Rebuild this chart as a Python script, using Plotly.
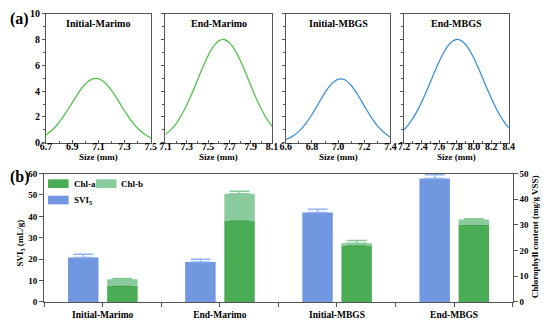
import plotly.graph_objects as go

W, H = 550, 324
FONT = "Liberation Serif"

# ---------- (a) size distributions ----------
panel_titles = ["Initial-Marimo", "End-Marimo", "Initial-MBGS", "End-MBGS"]

size_im = [6.70, 6.75, 6.80, 6.85, 6.90, 6.95, 7.00, 7.05, 7.10, 7.15, 7.20, 7.25, 7.30, 7.35, 7.40, 7.45, 7.50]
freq_im = [0.60, 1.02, 1.59, 2.31, 3.11, 3.91, 4.55, 4.93, 4.97, 4.65, 4.05, 3.28, 2.46, 1.72, 1.12, 0.68, 0.38]

size_em = [7.10, 7.15, 7.20, 7.25, 7.30, 7.35, 7.40, 7.45, 7.50, 7.55, 7.60, 7.65, 7.70, 7.75, 7.80, 7.85, 7.90, 7.95, 8.00, 8.05, 8.10]
freq_em = [0.64, 1.00, 1.49, 2.14, 2.93, 3.86, 4.85, 5.85, 6.75, 7.46, 7.89, 8.00, 7.75, 7.20, 6.41, 5.46, 4.45, 3.47, 2.60, 1.86, 1.27]

size_ib = [6.60, 6.65, 6.70, 6.75, 6.80, 6.85, 6.90, 6.95, 7.00, 7.05, 7.10, 7.15, 7.20, 7.25, 7.30, 7.35, 7.40]
freq_ib = [0.25, 0.49, 0.88, 1.45, 2.19, 3.04, 3.88, 4.56, 4.92, 4.88, 4.44, 3.72, 2.86, 2.03, 1.32, 0.79, 0.43]

size_eb = [7.20, 7.25, 7.30, 7.35, 7.40, 7.45, 7.50, 7.55, 7.60, 7.65, 7.70, 7.75, 7.80, 7.85, 7.90, 7.95, 8.00, 8.05, 8.10, 8.15, 8.20, 8.25, 8.30, 8.35, 8.40]
freq_eb = [1.01, 1.40, 1.89, 2.47, 3.14, 3.89, 4.69, 5.50, 6.26, 6.94, 7.48, 7.84, 8.00, 7.93, 7.65, 7.17, 6.55, 5.81, 5.01, 4.21, 3.44, 2.73, 2.11, 1.58, 1.16]

x_ranges = [[6.7, 7.5], [7.1, 8.1], [6.6, 7.4], [7.2, 8.4]]
x_tickvals = [
    [6.7, 6.9, 7.1, 7.3, 7.5],
    [7.1, 7.3, 7.5, 7.7, 7.9, 8.1],
    [6.6, 6.8, 7.0, 7.2, 7.4],
    [7.2, 7.4, 7.6, 7.8, 8.0, 8.2, 8.4],
]

# ---------- (b) bars ----------
categories = ["Initial-Marimo", "End-Marimo", "Initial-MBGS", "End-MBGS"]
svi5 = [20.8, 18.7, 41.8, 57.7]
svi5_err = [1.5, 1.2, 1.5, 1.8]
chl_a = [6.3, 31.7, 22.0, 30.0]
chl_a_err = [0.6, 1.6, 0.0, 0.0]
chl_b = [2.5, 10.4, 0.9, 2.1]
chl_b_err = [0.3, 1.0, 1.0, 0.3]

GREEN_LINE = "#55c04f"
BLUE_LINE = "#3f8fd8"
C_SVI = "#7097e0"
C_SVI_ERR = "#92b2f0"
C_A = "#4aad55"
C_A_ERR = "#3b9646"
C_B = "#89cb9d"
AX = "#555555"


def px(x):
    return x / W


def py(y):
    return 1 - y / H


fig = go.Figure()

top_domains = [(41, 148), (163, 272), (286, 393), (407, 514)]
curves = [(size_im, freq_im, GREEN_LINE), (size_em, freq_em, GREEN_LINE),
          (size_ib, freq_ib, BLUE_LINE), (size_eb, freq_eb, BLUE_LINE)]

for i, (xs, ys, col) in enumerate(curves):
    n = "" if i == 0 else str(i + 1)
    fig.add_trace(go.Scatter(x=xs, y=ys, mode="lines", line=dict(color=col, width=1.3, shape="spline"),
                             xaxis="x" + n, yaxis="y" + n, showlegend=False, hoverinfo="skip"))
    x0, x1 = top_domains[i]
    fig.update_layout(**{
        "xaxis" + n: dict(domain=[px(x0), px(x1)], anchor="y" + n, range=x_ranges[i],
                          tickvals=x_tickvals[i], ticktext=["%.1f" % v for v in x_tickvals[i]],
                          showline=True, linecolor=AX, linewidth=1, mirror=True,
                          ticks="inside", ticklen=3, tickcolor=AX, showgrid=False, zeroline=False,
                          ticklabelstandoff=-6,
                          minor=dict(ticks="inside", ticklen=2, tickcolor=AX, dtick=0.1,
                                     tick0=x_ranges[i][0]),
                          tickfont=dict(family=FONT, size=10, color="black", weight="bold")),
        "yaxis" + n: dict(domain=[py(142), py(8)], anchor="x" + n, range=[0, 10], dtick=2,
                          showline=True, linecolor=AX, linewidth=1, mirror=True,
                          ticks="outside", ticklen=3, tickcolor=AX, showgrid=False, zeroline=False,
                          showticklabels=(i == 0),
                          minor=dict(ticks="outside", ticklen=2, tickcolor=AX, dtick=1),
                          tickfont=dict(family=FONT, size=10, color="black", weight="bold")),
    })
    fig.add_annotation(text=panel_titles[i], xref="x" + n + " domain", yref="paper",
                       x=0.5, y=py(18), showarrow=False, xanchor="center", yanchor="middle",
                       font=dict(family=FONT, size=10, color="black", weight="bold"))
    fig.add_annotation(text="Size (mm)", xref="x" + n + " domain", yref="paper",
                       x=0.5, y=py(157), showarrow=False, xanchor="center", yanchor="middle",
                       font=dict(family=FONT, size=9, color="black", weight="bold"))

# bottom chart
xpos = list(range(len(categories)))
BW = 0.26
fig.add_trace(go.Bar(x=xpos, y=svi5, width=BW, offset=-0.296, marker=dict(color=C_SVI, line=dict(width=0)),
                     error_y=dict(type="data", array=svi5_err, arrayminus=[0] * 4, symmetric=False,
                                  color=C_SVI_ERR, thickness=1.5, width=10),
                     xaxis="x5", yaxis="y5", showlegend=False, name="SVI5"))
fig.add_trace(go.Bar(x=xpos, y=chl_a, width=BW, offset=0.038, marker=dict(color=C_A, line=dict(width=0)),
                     error_y=dict(type="data", array=chl_a_err, arrayminus=[0] * 4, symmetric=False,
                                  color=C_A_ERR, thickness=1.5, width=10),
                     xaxis="x5", yaxis="y6", showlegend=False, name="Chl-a"))
fig.add_trace(go.Bar(x=xpos, y=chl_b, base=chl_a, width=BW, offset=0.038, marker=dict(color=C_B, line=dict(width=0)),
                     error_y=dict(type="data", array=chl_b_err, arrayminus=[0] * 4, symmetric=False,
                                  color=C_B, thickness=1.5, width=10),
                     xaxis="x5", yaxis="y6", showlegend=False, name="Chl-b"))

fig.update_layout(
    xaxis5=dict(domain=[px(39), px(518)], anchor="y5", range=[-0.5, 3.5],
                tickvals=xpos, ticktext=categories,
                showline=True, linecolor=AX, linewidth=1, mirror=True,
                ticks="outside", ticklen=4, tickcolor=AX, showgrid=False, zeroline=False,
                minor=dict(ticks="outside", ticklen=4, tickcolor=AX, tickvals=[-0.5, 0.5, 1.5, 2.5, 3.5]),
                tickfont=dict(family=FONT, size=9.5, color="black", weight="bold")),
    yaxis5=dict(domain=[py(307.3), py(174)], anchor="x5", range=[0, 60], dtick=10,
                showline=True, linecolor=AX, linewidth=1,
                ticks="outside", ticklen=4, tickcolor=AX, showgrid=False, zeroline=False,
                tickfont=dict(family=FONT, size=9, color="black", weight="bold")),
    yaxis6=dict(overlaying="y5", side="right", anchor="x5", range=[0, 50], dtick=10,
                showline=True, linecolor=AX, linewidth=1,
                ticks="outside", ticklen=4, tickcolor=AX, showgrid=False, zeroline=False,
                tickfont=dict(family=FONT, size=9, color="black", weight="bold")),
    barmode="overlay",
)

# axis titles for (b)
fig.add_annotation(text="SVI<sub>5</sub> (mL/g)", xref="paper", yref="paper", x=px(15), y=py(246),
                   textangle=-90, showarrow=False, xanchor="center", yanchor="middle",
                   font=dict(family=FONT, size=9, color="black", weight="bold"))
fig.add_annotation(text="Chlorophyll content (mg/g VSS)", xref="paper", yref="paper", x=px(541), y=py(240),
                   textangle=-90, showarrow=False, xanchor="center", yanchor="middle",
                   font=dict(family=FONT, size=9, color="black", weight="bold"))

# panel labels
for lab, yy in [("(a)", 13), ("(b)", 178)]:
    fig.add_annotation(text=lab, xref="paper", yref="paper", x=px(2), y=py(yy), showarrow=False,
                       xanchor="left", yanchor="middle",
                       font=dict(family=FONT, size=16, color="black", weight="bold"))

# legend (swatches + labels)
legend_items = [("Chl-a", C_A, 43, 180), ("Chl-b", C_B, 92, 180), ("SVI<sub>5</sub>", C_SVI, 43, 197)]
for txt, col, lx, ly in legend_items:
    fig.add_shape(type="rect", xref="paper", yref="paper", x0=px(lx), x1=px(lx + 21), y0=py(ly + 9), y1=py(ly),
                  fillcolor=col, line=dict(width=0))
    fig.add_annotation(text=txt, xref="paper", yref="paper", x=px(lx + 24), y=py(ly + 4.5), showarrow=False,
                       xanchor="left", yanchor="middle",
                       font=dict(family=FONT, size=9, color="black", weight="bold"))

fig.update_layout(width=W, height=H, margin=dict(l=0, r=0, t=0, b=0),
                  paper_bgcolor="white", plot_bgcolor="white", showlegend=False)

fig.write_html("out.html", config={"displayModeBar": False},
               post_script="document.body.style.margin='0';document.body.style.overflow='hidden';")
